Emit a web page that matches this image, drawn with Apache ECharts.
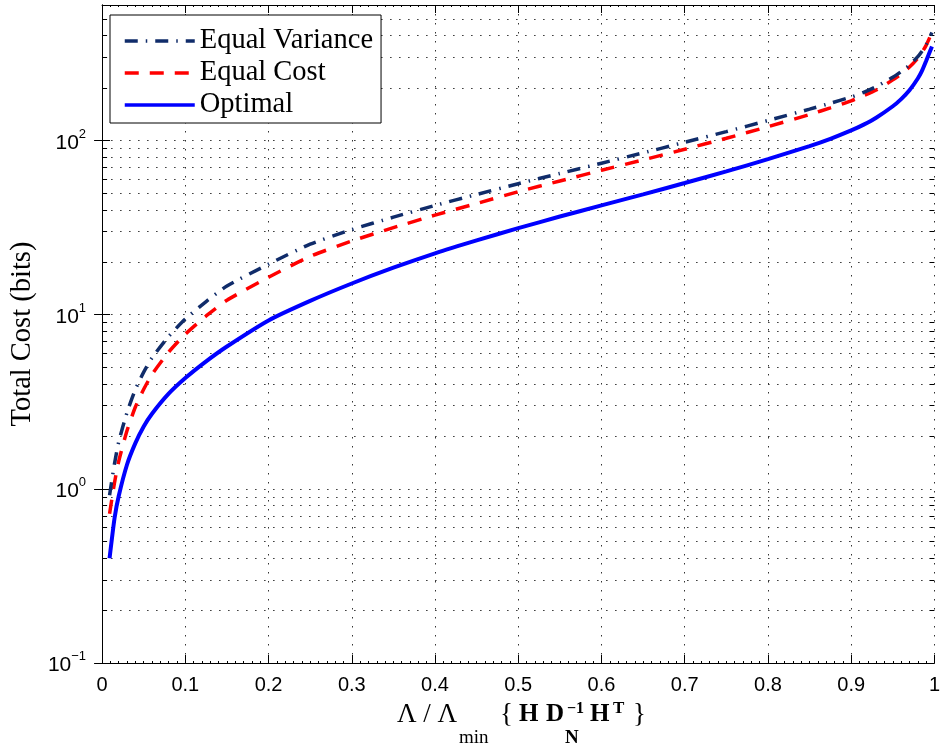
<!DOCTYPE html>
<html><head><meta charset="utf-8">
<script src="https://cdn.jsdelivr.net/npm/echarts@6/dist/echarts.min.js"></script>
<style>html,body{margin:0;padding:0;background:#fff}#c{width:943px;height:749px}</style>
</head><body><div id="c"></div>
<script>
const xValues       = [0.009, 0.015, 0.02, 0.03, 0.04, 0.05, 0.06, 0.08, 0.1, 0.125, 0.15, 0.2, 0.25, 0.3, 0.35, 0.4, 0.45, 0.5, 0.55, 0.6, 0.65, 0.7, 0.75, 0.8, 0.85, 0.875, 0.9, 0.915, 0.93, 0.95, 0.96, 0.97, 0.98, 0.985, 0.99, 0.997];
const equalVariance = [0.92, 1.40, 1.86, 2.75, 3.72, 4.68, 5.65, 7.5, 9.44, 11.9, 14.6, 19.5, 25.4, 30.8, 36.3, 42.4, 49.0, 56.5, 64.7, 74.1, 84.9, 97.7, 112.5, 130.3, 151.4, 163.7, 177.8, 189, 204, 231, 249, 271, 303, 326, 355, 417];
const equalCost     = [0.72, 1.09, 1.44, 2.16, 2.95, 3.73, 4.54, 6.10, 7.73, 9.83, 12.1, 16.4, 21.6, 26.5, 31.6, 37.3, 43.5, 50.8, 58.6, 67.5, 77.4, 89.1, 103, 120, 141, 154, 169, 181, 195, 223, 241, 264, 297, 321, 352, 417];
const optimal       = [0.40, 0.68, 0.91, 1.38, 1.83, 2.28, 2.70, 3.52, 4.33, 5.40, 6.57, 9.27, 12.0, 15.1, 18.6, 22.5, 26.7, 31.4, 36.6, 42.4, 49.1, 57.0, 66.5, 78.2, 92.9, 102.3, 114.3, 123.4, 135.2, 157.3, 172.9, 194.2, 227, 251, 286, 347];
const seriesNames   = ['Equal Variance', 'Equal Cost', 'Optimal'];
const yMajorTicks   = [0.1, 1, 10, 100];
const yMinorTicks   = [0.2, 0.3, 0.4, 0.5, 0.6, 0.7, 0.8, 0.9, 2, 3, 4, 5, 6, 7, 8, 9, 20, 30, 40, 50, 60, 70, 80, 90, 200, 300, 400, 500];
const yLabel = 'Total Cost (bits)';

const pairs = arr => xValues.map((x, i) => [x, arr[i]]);
const dot = {type: [1.5, 7.5], color: '#333', width: 1};
const black = {color: '#000', width: 1};
const sansFont = 'Liberation Sans';
const serifFont = 'Liberation Serif';

function supLabel(v) {
  const e = Math.round(Math.log10(v));
  return '{b|10}{s|' + (e < 0 ? '\u2212' + (-e) : e) + '}';
}

const logBase = {type: 'log', logBase: 10, min: 0.1, max: 600, gridIndex: 0};
const chart = echarts.init(document.getElementById('c'), null, {renderer: 'canvas'});
const txt = (x, y, text, font) => ({type: 'text', x: x, y: y, style: {text: text, font: font, fill: '#000', verticalAlign: 'middle'}});
chart.setOption({
  animation: false,
  backgroundColor: '#fff',
  grid: {left: 99, right: 6, top: 5, bottom: 86, containLabel: false},
  legend: {
    orient: 'vertical', left: 110, top: 15,
    data: seriesNames,
    backgroundColor: '#fff', borderColor: '#000', borderWidth: 1,
    padding: [10, 8, 2, 13], itemGap: 0, itemWidth: 70, itemHeight: 14,
    itemStyle: {opacity: 0, color: 'rgba(0,0,0,0)', borderWidth: 0},
    lineStyle: {width: 3.5},
    textStyle: {fontFamily: serifFont, fontSize: 28.5, color: '#000', lineHeight: 32}
  },
  xAxis: [
    {type: 'value', min: 0, max: 1, interval: 0.1, position: 'bottom',
      axisLine: {show: true, lineStyle: black},
      axisTick: {show: true, inside: true, length: 8, lineStyle: black},
      minorTick: {show: true, splitNumber: 10, length: 2, lineStyle: black},
      axisLabel: {fontFamily: sansFont, fontSize: 20, color: '#000', margin: 12},
      splitLine: {show: true, lineStyle: dot}},
    {type: 'value', min: 0, max: 1, interval: 0.1, position: 'top',
      axisLine: {show: true, lineStyle: black},
      axisTick: {show: true, inside: true, length: 8, lineStyle: black},
      minorTick: {show: true, splitNumber: 10, length: 2, lineStyle: black},
      axisLabel: {show: false}, splitLine: {show: false}}
  ],
  yAxis: [
    Object.assign({}, logBase, {position: 'left',
      axisLine: {show: true, lineStyle: black},
      axisTick: {show: true, inside: true, length: 8, customValues: yMajorTicks, lineStyle: black},
      axisLabel: {customValues: yMajorTicks, margin: 16, formatter: supLabel,
        rich: {
          b: {fontFamily: sansFont, fontSize: 21, color: '#000', lineHeight: 26, verticalAlign: 'bottom'},
          s: {fontFamily: sansFont, fontSize: 13, color: '#000', lineHeight: 14, verticalAlign: 'top'}
        }},
      splitLine: {show: true, lineStyle: dot},
      name: yLabel, nameLocation: 'middle', nameGap: 64,
      nameTextStyle: {fontFamily: serifFont, fontSize: 28.5, color: '#000'}}),
    Object.assign({}, logBase, {position: 'right',
      axisLine: {show: true, lineStyle: black},
      axisTick: {show: true, inside: true, length: 8, customValues: yMajorTicks, lineStyle: black},
      axisLabel: {show: false}, splitLine: {show: false}}),
    Object.assign({}, logBase, {position: 'left',
      axisLine: {show: false},
      axisTick: {show: true, inside: true, length: 5, customValues: yMinorTicks, lineStyle: black},
      axisLabel: {show: false},
      splitLine: {show: true, lineStyle: dot}}),
    Object.assign({}, logBase, {position: 'right',
      axisLine: {show: false},
      axisTick: {show: true, inside: true, length: 5, customValues: yMinorTicks, lineStyle: black},
      axisLabel: {show: false}, splitLine: {show: false}})
  ],
  series: [
    {name: seriesNames[0], type: 'line', xAxisIndex: 0, yAxisIndex: 0, symbol: 'none', showSymbol: false,
      smooth: 0.2,
      data: pairs(equalVariance), lineStyle: {color: '#102c6a', width: 3.5, type: [13, 8, 1.5, 8]},
      itemStyle: {color: '#102c6a'}, z: 4},
    {name: seriesNames[1], type: 'line', xAxisIndex: 0, yAxisIndex: 0, symbol: 'none', showSymbol: false,
      smooth: 0.2,
      data: pairs(equalCost), lineStyle: {color: '#ff0000', width: 3.5, type: [14, 11]},
      itemStyle: {color: '#ff0000'}, z: 3},
    {name: seriesNames[2], type: 'line', xAxisIndex: 0, yAxisIndex: 0, symbol: 'none', showSymbol: false,
      smooth: 0.2,
      data: pairs(optimal), lineStyle: {color: '#0000ff', width: 4, type: 'solid'},
      itemStyle: {color: '#0000ff'}, z: 2}
  ],
  graphic: [
    txt(397, 715, '\u039b / \u039b', '27px "Liberation Serif"'),
    txt(459, 738, 'min', '19px "Liberation Serif"'),
    txt(500, 715, '{', '27px "Liberation Serif"'),
    txt(519, 715, 'H', 'bold 25px "Liberation Serif"'),
    txt(546, 715, 'D', 'bold 25px "Liberation Serif"'),
    txt(567, 709, '\u22121', 'bold 16px "Liberation Serif"'),
    txt(565, 738, 'N', 'bold 19px "Liberation Serif"'),
    txt(590, 715, 'H', 'bold 25px "Liberation Serif"'),
    txt(613, 709, 'T', 'bold 17px "Liberation Serif"'),
    txt(633, 715, '}', '27px "Liberation Serif"')
  ]
});
</script></body></html>
